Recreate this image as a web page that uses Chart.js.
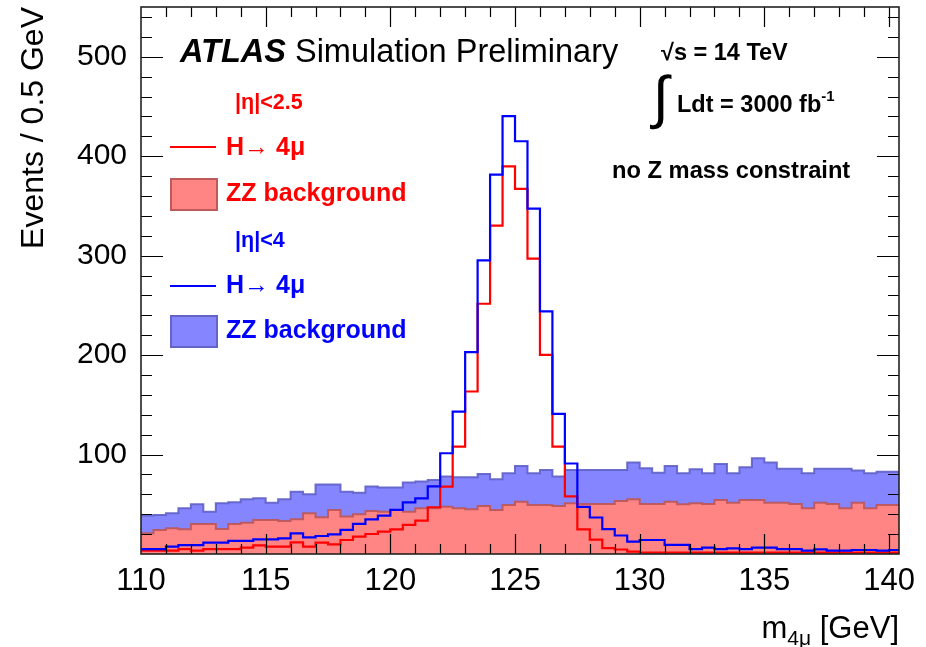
<!DOCTYPE html>
<html>
<head>
<meta charset="utf-8">
<script src="https://cdn.jsdelivr.net/npm/chart.js@4.4.1/dist/chart.umd.min.js"></script>
<style>
  html, body { margin: 0; padding: 0; background: #fff; }
  #wrap { position: relative; width: 926px; height: 647px; font-family: "Liberation Sans", Arial, Helvetica, sans-serif; }
  #wrap canvas { position: absolute; left: 0; top: 0; }
  .txt { position: absolute; white-space: nowrap; line-height: 1; }
  .red { color: #ff0000; }
  .blue { color: #0000ff; }
  .bold { font-weight: bold; }
  .line { position: absolute; height: 2px; width: 46px; left: 170px; }
  .box { position: absolute; width: 44px; height: 29px; left: 170px; border: 2px solid; }
</style>
</head>
<body>
<div id="wrap">
  <canvas id="histo" width="926" height="647"></canvas>

  <div class="txt" style="left:180px; top:35px; font-size:32.5px;"><b><i>ATLAS</i></b> Simulation Preliminary</div>

  <div class="txt red bold" style="left:235px; top:92px; font-size:21.5px;">|η|&lt;2.5</div>
  <div class="line" style="top:146px; background:#ff0000;"></div>
  <div class="txt red bold" style="left:226px; top:134px; font-size:25px;">H&#8594; 4μ</div>
  <div class="box" style="top:178px; background:#ff8585; border-color:#c05a5a;"></div>
  <div class="txt red bold" style="left:226px; top:180px; font-size:25px;">ZZ background</div>

  <div class="txt blue bold" style="left:235px; top:230px; font-size:21.5px;">|η|&lt;4</div>
  <div class="line" style="top:285px; background:#0000ff;"></div>
  <div class="txt blue bold" style="left:226px; top:272px; font-size:25px;">H&#8594; 4μ</div>
  <div class="box" style="top:315px; background:#8585ff; border-color:#6464c8;"></div>
  <div class="txt blue bold" style="left:226px; top:317px; font-size:25px;">ZZ background</div>

  <div class="txt bold" style="left:661px; top:41px; font-size:23.5px;">√s = 14 TeV</div>
  <div class="txt" style="left:653px; top:68px; font-size:58px;">∫</div>
  <div class="txt bold" style="left:677px; top:88px; font-size:23.5px;">Ldt = 3000 fb<sup style="font-size:15px; vertical-align:11px;">-1</sup></div>
  <div class="txt bold" style="left:612px; top:159px; font-size:23.7px;">no Z mass constraint</div>

  <div class="txt" style="right:27px; top:612px; font-size:31px;">m<sub style="font-size:21px;">4μ</sub> [GeV]</div>
</div>

<script>
// HISTOGRAM BINNING (0.5 GeV bins starting at 110 GeV)
const binLow = 110;
const binWidth = 0.5;

// ZZ BACKGROUND, |eta| < 4
const bkgEta4 = [
  38.6, 39.3, 41, 46, 50, 42.6, 51, 52, 55, 56,
  51.6, 55, 62.7, 60, 70, 70, 62.7, 61.7, 67.8, 66.8,
  66.8, 71.8, 72.8, 74.5, 77.8, 77.1, 77.1, 80.5, 75.2, 81.2,
  88.6, 81.2, 84.5, 77.8, 84.5, 84.5, 84.5, 84.5, 84.5, 91.9,
  86.2, 81.8, 88.6, 81.2, 85.2, 81.2, 90.6, 81.2, 87.2, 96.3,
  91.9, 85.6, 85.6, 81.2, 85.6, 85.6, 85.6, 83.9, 81.2, 82.8,
  82.8
];

// ZZ BACKGROUND, |eta| < 2.5
const bkgEta25 = [
  20.8, 24.2, 25.8, 24.8, 30.2, 30.2, 25.2, 30.2, 31.5, 34.2,
  34.2, 33.2, 34.9, 41, 36.9, 44.3, 37.6, 40, 43.3, 42.6,
  44.3, 42.6, 46, 46, 47.6, 46, 45, 48.3, 44.3, 49.3,
  52.6, 49.3, 49.3, 48.3, 51, 50.3, 50.3, 50.3, 53.3, 55,
  50.3, 50.3, 52.6, 50, 51, 50.3, 54.4, 51.6, 54.4, 54.4,
  51.6, 51.6, 50.3, 46, 51.6, 50.3, 46, 51.6, 46, 49.3,
  49.3
];

// H -> 4mu SIGNAL, |eta| < 4
const sigEta4 = [
  5, 5, 7.4, 9, 9, 11.4, 11.4, 13.1, 13.1, 14.8,
  14.8, 15.8, 20.8, 16.8, 18.1, 19.8, 24.2, 30.2, 34.9, 38.6,
  44.3, 52, 56, 68, 101.3, 143.2, 203, 295.2, 381.5, 440.2,
  415, 347.3, 243.9, 140.9, 91, 47.3, 36.7, 25, 18.6, 12.4,
  14.1, 14.1, 9.1, 9.1, 5, 6.4, 5, 5.7, 5, 6.4,
  6.4, 5, 5, 3.4, 4.7, 3.4, 3.4, 4, 4, 3.4,
  4
];

// H -> 4mu SIGNAL, |eta| < 2.5
const sigEta25 = [
  3.4, 3.4, 3.4, 5, 3.4, 5, 5, 5, 6.4, 8.7,
  7.4, 7.4, 11.7, 7.4, 11.4, 9.7, 14.1, 17.4, 20.1, 22.5,
  24.8, 29.2, 33.5, 47, 67.8, 108, 163.4, 251.6, 330.1, 389.8,
  367.1, 296.9, 200.3, 108, 58, 24.7, 14.5, 6, 4.5, 2.4,
  1.3, 1.3, 1.3, 1.3, 1.3, 1.3, 1.3, 1.3, 1.3, 1.3,
  1.3, 1.3, 1.3, 1.3, 1.3, 1.3, 1.3, 1.3, 1.3, 1.3,
  1.3
];

// AXES
const xRange = [110, 140.4];
const yRange = [0, 550];
const xTickLabels = [110, 115, 120, 125, 130, 135, 140];
const yTickLabels = [100, 200, 300, 400, 500];

// bin contents -> points at the bin low edges, closed at the last high edge
function toSteps(values) {
  const pts = values.map((v, i) => ({ x: binLow + i * binWidth, y: v }));
  pts.push({ x: binLow + values.length * binWidth, y: values[values.length - 1] });
  return pts;
}

function minorTicks(from, to, step) {
  const out = [];
  for (let v = from; v <= to + 1e-9; v += step) out.push({ value: v });
  return out;
}

// ROOT style frame: ticks pointing inwards on all four sides
const frameTicks = {
  id: "frameTicks",
  afterDatasetsDraw(chart) {
    const { ctx, chartArea: a, scales } = chart;
    const x = scales.x, y = scales.y;
    ctx.save();
    ctx.strokeStyle = "#000";
    ctx.lineWidth = 1.2;
    ctx.beginPath();
    y.ticks.forEach(t => {
      if (t.value <= yRange[0] || t.value >= yRange[1]) return;
      const py = Math.round(y.getPixelForValue(t.value)) + 0.5;
      const len = yTickLabels.includes(t.value) ? 22 : 11;
      ctx.moveTo(a.left, py); ctx.lineTo(a.left + len, py);
      ctx.moveTo(a.right, py); ctx.lineTo(a.right - len, py);
    });
    x.ticks.forEach(t => {
      if (t.value <= xRange[0] || t.value >= xRange[1]) return;
      const px = Math.round(x.getPixelForValue(t.value)) + 0.5;
      const len = xTickLabels.includes(t.value) ? 20 : 10;
      ctx.moveTo(px, a.bottom); ctx.lineTo(px, a.bottom - len);
      ctx.moveTo(px, a.top); ctx.lineTo(px, a.top + len);
    });
    ctx.stroke();
    ctx.lineWidth = 1.6;
    ctx.strokeStyle = "#222";
    ctx.strokeRect(a.left, a.top, a.width, a.height);
    ctx.restore();
  }
};

const tickFont = { family: "'Liberation Sans', Arial, sans-serif", size: 30 };

new Chart(document.getElementById("histo"), {
  type: "line",
  data: {
    datasets: [
      { label: "H→4μ |η|<4", data: toSteps(sigEta4), borderColor: "#0000ff", borderWidth: 2.2, fill: false, order: 0 },
      { label: "H→4μ |η|<2.5", data: toSteps(sigEta25), borderColor: "#ff0000", borderWidth: 2.2, fill: false, order: 1 },
      { label: "ZZ |η|<2.5", data: toSteps(bkgEta25), borderColor: "rgba(190,85,85,0.9)", backgroundColor: "#ff8585", borderWidth: 2, fill: "origin", order: 2 },
      { label: "ZZ |η|<4", data: toSteps(bkgEta4), borderColor: "rgba(95,95,200,0.9)", backgroundColor: "#8585ff", borderWidth: 2, fill: "origin", order: 3 }
    ]
  },
  options: {
    responsive: false,
    animation: false,
    parsing: false,
    normalized: true,
    elements: {
      line: { stepped: true, tension: 0 },
      point: { radius: 0, hoverRadius: 0 }
    },
    layout: { padding: { top: 7, right: 27, left: 0, bottom: 0 } },
    plugins: {
      legend: { display: false },
      tooltip: { enabled: false }
    },
    scales: {
      x: {
        type: "linear",
        min: xRange[0],
        max: xRange[1],
        afterBuildTicks: s => { s.ticks = minorTicks(110, 140, 1); },
        afterFit: s => { s.height = 93; s.paddingLeft = 0; s.paddingRight = 0; },
        grid: { display: false },
        border: { display: false },
        ticks: {
          autoSkip: false,
          maxRotation: 0,
          padding: 1,
          color: "#000",
          font: { family: "'Liberation Sans', Arial, sans-serif", size: 31 },
          callback: v => xTickLabels.includes(v) ? String(v) : ""
        }
      },
      y: {
        min: yRange[0],
        max: yRange[1],
        afterBuildTicks: s => { s.ticks = minorTicks(0, 540, 20); },
        afterFit: s => { s.width = 141; s.paddingTop = 0; s.paddingBottom = 0; },
        grid: { display: false },
        border: { display: false },
        title: {
          display: true,
          text: "Events / 0.5 GeV",
          align: "end",
          color: "#000",
          font: { family: "'Liberation Sans', Arial, sans-serif", size: 32 },
          padding: { top: 15, bottom: 0 }
        },
        ticks: {
          autoSkip: false,
          padding: 6,
          color: "#000",
          font: tickFont,
          callback: v => yTickLabels.includes(v) ? String(v) : ""
        }
      }
    }
  },
  plugins: [frameTicks]
});
</script>
</body>
</html>
